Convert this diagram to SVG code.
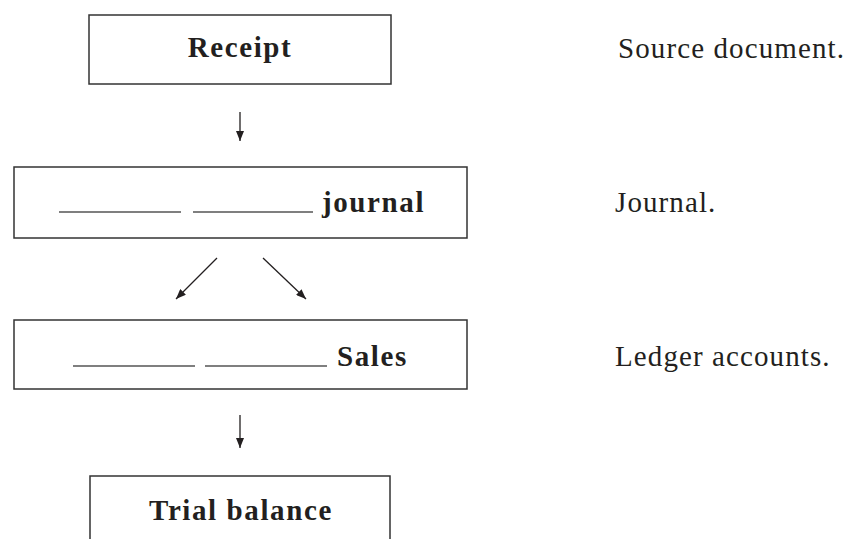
<svg xmlns="http://www.w3.org/2000/svg" width="851" height="539" viewBox="0 0 851 539">
  <style>
    .box { fill: #ffffff; stroke: #333333; stroke-width: 1.5; }
    .lbl { font-family: "Liberation Serif", serif; font-weight: bold; font-size: 29px; fill: #231f20; letter-spacing: 1.6px; }
    .side { font-family: "Liberation Serif", serif; font-size: 29px; fill: #231f20; letter-spacing: 1.1px; }
    .blank { stroke: #555555; stroke-width: 1.6; }
    .conn { stroke: #231f20; stroke-width: 1.3; fill: none; marker-end: url(#ah); }
  </style>
  <defs>
    <marker id="ah" viewBox="0 0 10 8" refX="10" refY="4" markerWidth="11" markerHeight="8" markerUnits="userSpaceOnUse" orient="auto">
      <path d="M0,0 L10,4 L0,8 Z" fill="#231f20"/>
    </marker>
  </defs>
  <rect width="851" height="539" fill="#ffffff"/>

  <g id="receipt">
    <rect class="box" x="89" y="15" width="302" height="69"/>
    <text class="lbl" x="240" y="57" text-anchor="middle">Receipt</text>
  </g>
  <g id="journal">
    <rect class="box" x="14" y="167" width="453" height="71"/>
    <line class="blank" x1="59" y1="212" x2="181" y2="212"/>
    <line class="blank" x1="193" y1="212" x2="313" y2="212"/>
    <text class="lbl" x="322" y="212">journal</text>
  </g>
  <g id="sales">
    <rect class="box" x="14" y="320" width="453" height="69"/>
    <line class="blank" x1="73" y1="366" x2="195" y2="366"/>
    <line class="blank" x1="205" y1="366" x2="327" y2="366"/>
    <text class="lbl" x="337" y="366">Sales</text>
  </g>
  <g id="trial-balance">
    <rect class="box" x="90" y="476" width="300" height="80"/>
    <text class="lbl" x="241" y="520" text-anchor="middle">Trial balance</text>
  </g>
  <g id="side-labels">
    <text class="side" x="618" y="58">Source document.</text>
    <text class="side" x="615" y="212">Journal.</text>
    <text class="side" x="615" y="366">Ledger accounts.</text>
  </g>

  <g id="connectors">
    <line class="conn" x1="240" y1="112" x2="240" y2="141"/>
    <line class="conn" x1="217" y1="258" x2="176" y2="299"/>
    <line class="conn" x1="263" y1="258" x2="306" y2="299"/>
    <line class="conn" x1="240" y1="415" x2="240" y2="448"/>
  </g>
</svg>
